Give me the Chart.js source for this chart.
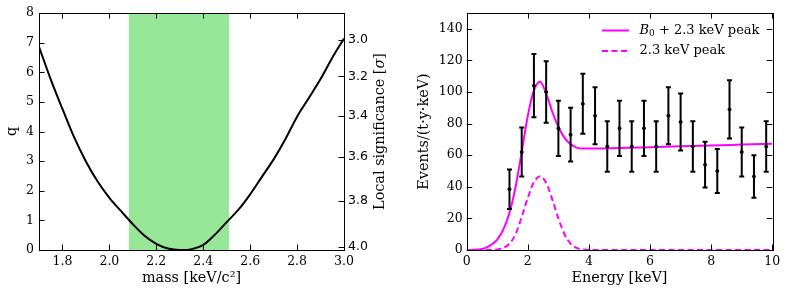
<!DOCTYPE html>
<html>
<head>
<meta charset="utf-8">
<script src="https://cdn.jsdelivr.net/npm/chart.js@4.4.1/dist/chart.umd.min.js"></script>
<style>
  html, body { margin: 0; padding: 0; background: #fff; }
  #wrap { position: relative; width: 789px; height: 295px; }
  canvas { position: absolute; top: 0; }
  #qplot { left: 0; }
  #spec { left: 400px; }
</style>
</head>
<body>
<div id="wrap">
  <canvas id="qplot" width="400" height="295"></canvas>
  <canvas id="spec" width="389" height="295"></canvas>
</div>
<script>
// ---- left panel: q vs mass ----
const mass = [1.70, 1.75, 1.80, 1.85, 1.90, 1.95, 2.00, 2.05, 2.10, 2.15, 2.20, 2.25, 2.30,
              2.35, 2.40, 2.45, 2.50, 2.55, 2.60, 2.65, 2.70, 2.75, 2.80, 2.85, 2.90, 2.95, 3.00];
const qVals = [6.86, 5.76, 4.76, 3.80, 2.99, 2.31, 1.76, 1.31, 0.87, 0.48, 0.21, 0.05, 0.00,
               0.03, 0.17, 0.52, 0.94, 1.36, 1.88, 2.47, 3.06, 3.74, 4.50, 5.13, 5.77, 6.49, 7.14];
const bandLo = 2.082, bandHi = 2.51;
const massTicks = [1.8, 2.0, 2.2, 2.4, 2.6, 2.8, 3.0];
const qTicks = [0, 1, 2, 3, 4, 5, 6, 7, 8];
const sigTicks = [3.0, 3.2, 3.4, 3.6, 3.8, 4.0];
const Q0 = 16.1; // significance axis: q = Q0 - sigma^2

// ---- right panel: spectrum ----
const dataE = [1.4, 1.8, 2.2, 2.6, 3.0, 3.4, 3.8, 4.2, 4.6, 5.0, 5.4, 5.8, 6.2, 6.6, 7.0, 7.4, 7.8, 8.2, 8.6, 9.0, 9.4, 9.8];
const dataY = [38.5, 62, 104, 100, 77, 73, 92.5, 85, 65.5, 77, 65.5, 77, 65.5, 85, 81, 65.5, 54, 50, 89, 62, 46.5, 65.5];
const dataErr = [12.5, 15.5, 20, 19.5, 17.5, 17, 19, 18, 16, 17.5, 16, 17.5, 16, 18, 18, 16, 14.5, 14, 18.5, 15.5, 13.5, 16];
const fitE = [0, 0.4, 0.6, 0.8, 1.0, 1.2, 1.4, 1.6, 1.8, 2.0, 2.2, 2.4, 2.6, 2.8, 3.0, 3.2, 3.4, 3.6, 3.8, 4.0, 5, 6, 7, 8, 9, 10];
const fitTotal = [0, 0.3, 1.2, 3.2, 6.5, 13, 23.5, 40, 62, 85, 101, 106.5, 99, 87.5, 78, 71, 67, 64.8, 64.2, 64.2, 64.6, 65.1, 65.6, 66.1, 66.7, 67.3];
const peakE = [0, 0.8, 1.0, 1.2, 1.4, 1.6, 1.8, 2.0, 2.2, 2.4, 2.6, 2.8, 3.0, 3.2, 3.4, 3.6, 3.8, 4.0, 10];
const peakVals = [0, 0, 0.3, 1.3, 4, 10, 21, 33, 43, 46.7, 42.5, 32, 20, 10, 4, 1.3, 0.3, 0, 0];
const energyTicks = [0, 2, 4, 6, 8, 10];
const eventTicks = [0, 20, 40, 60, 80, 100, 120, 140];

const serif = 'DejaVu Serif';
const pts = (xs, ys) => xs.map((x, i) => ({x: x, y: ys[i]}));
const setTicks = (vals) => (scale) => { scale.ticks = vals.map(v => ({value: v})); };

// draw a row of text pieces, each with its own font, starting at x
function drawPieces(ctx, pieces, x, y) {
  pieces.forEach(p => {
    ctx.font = p.font;
    ctx.fillText(p.text, x, y + (p.dy || 0));
    x += ctx.measureText(p.text).width;
  });
}
function piecesWidth(ctx, pieces) {
  return pieces.reduce((w, p) => { ctx.font = p.font; return w + ctx.measureText(p.text).width; }, 0);
}

// frame + inward tick marks, matplotlib style
const frameTicks = {
  id: 'frameTicks',
  afterDraw(chart, args, opts) {
    const {ctx, chartArea: a} = chart;
    const L = 5.5;
    ctx.save();
    ctx.strokeStyle = '#000';
    ctx.lineWidth = 1;
    ctx.strokeRect(Math.round(a.left) + 0.5, Math.round(a.top) + 0.5,
                   Math.round(a.right - a.left), Math.round(a.bottom - a.top));
    ctx.beginPath();
    for (const [id, sides] of Object.entries(opts.marks || {})) {
      const s = chart.scales[id];
      s.ticks.forEach(t => {
        const p = Math.round(s.getPixelForValue(t.value)) + 0.5;
        sides.forEach(side => {
          if (side === 'bottom') { ctx.moveTo(p, a.bottom); ctx.lineTo(p, a.bottom - L); }
          if (side === 'top') { ctx.moveTo(p, a.top); ctx.lineTo(p, a.top + L); }
          if (side === 'left') { ctx.moveTo(a.left, p); ctx.lineTo(a.left + L, p); }
          if (side === 'right') { ctx.moveTo(a.right, p); ctx.lineTo(a.right - L, p); }
        });
      });
    }
    ctx.stroke();
    if (opts.rightTitle) {
      const f = '14.4px "' + serif + '"';
      const pieces = [
        { text: 'Local significance [', font: f },
        { text: 'σ', font: 'italic ' + f },
        { text: ']', font: f }
      ];
      ctx.fillStyle = '#000';
      ctx.textAlign = 'left';
      ctx.textBaseline = 'middle';
      ctx.translate(opts.rightTitle.x, (a.top + a.bottom) / 2);
      ctx.rotate(-Math.PI / 2);
      drawPieces(ctx, pieces, -piecesWidth(ctx, pieces) / 2, 0);
    }
    ctx.restore();
  }
};

// vertical error bars with caps
const errorBars = {
  id: 'errorBars',
  afterDatasetsDraw(chart) {
    const {ctx, scales: {x, y}} = chart;
    ctx.save();
    ctx.strokeStyle = '#000';
    ctx.lineWidth = 2;
    ctx.beginPath();
    dataE.forEach((e, i) => {
      const px = x.getPixelForValue(e);
      const hi = y.getPixelForValue(dataY[i] + dataErr[i]);
      const lo = y.getPixelForValue(dataY[i] - dataErr[i]);
      ctx.moveTo(px, hi); ctx.lineTo(px, lo);
      ctx.moveTo(px - 2.5, hi); ctx.lineTo(px + 2.5, hi);
      ctx.moveTo(px - 2.5, lo); ctx.lineTo(px + 2.5, lo);
    });
    ctx.stroke();
    ctx.restore();
  }
};

// legend drawn inside the plot
const innerLegend = {
  id: 'innerLegend',
  afterDraw(chart) {
    const ctx = chart.ctx;
    const f = '13px "' + serif + '"';
    ctx.save();
    ctx.strokeStyle = '#ff00ff';
    ctx.lineWidth = 2;
    ctx.beginPath(); ctx.moveTo(202, 30.5); ctx.lineTo(229, 30.5); ctx.stroke();
    ctx.setLineDash([6, 3.5]);
    ctx.beginPath(); ctx.moveTo(202, 51); ctx.lineTo(229, 51); ctx.stroke();
    ctx.fillStyle = '#000';
    ctx.textBaseline = 'middle';
    ctx.textAlign = 'left';
    drawPieces(ctx, [
      { text: 'B', font: 'italic ' + f },
      { text: '0', font: '9px "' + serif + '"', dy: 3.5 },
      { text: ' + 2.3 keV peak', font: f }
    ], 239.5, 30.5);
    drawPieces(ctx, [{ text: '2.3 keV peak', font: f }], 239.5, 51);
    ctx.restore();
  }
};

Chart.defaults.font.family = serif;
Chart.defaults.font.size = 12.5;
Chart.defaults.color = '#000';

let qChart = new Chart(document.getElementById('qplot').getContext('2d'), {
  type: 'line',
  data: {
    datasets: [{
      data: pts(mass, qVals),
      borderColor: '#000',
      borderWidth: 2,
      pointRadius: 0,
      cubicInterpolationMode: 'monotone',
      fill: false
    }, {
      data: [{x: bandLo, y: 8}, {x: bandHi, y: 8}],
      borderWidth: 0,
      pointRadius: 0,
      backgroundColor: '#98e698',
      fill: 'origin'
    }]
  },
  options: {
    responsive: false,
    animation: false,
    layout: { padding: { top: 13, left: 0, right: 0, bottom: 0 } },
    plugins: {
      legend: { display: false },
      tooltip: { enabled: false },
      frameTicks: {
        marks: { x: ['bottom', 'top'], y: ['left'], sig: ['right'] },
        rightTitle: { x: 380 }
      }
    },
    scales: {
      x: {
        type: 'linear', min: 1.7, max: 3.0,
        afterBuildTicks: setTicks(massTicks),
        afterFit: s => { s.height = 45; },
        grid: { display: false, drawTicks: false },
        border: { display: false },
        ticks: { padding: 4, callback: v => v.toFixed(1), maxRotation: 0 },
        title: { display: true, text: 'mass [keV/c²]', font: { size: 14.4 }, padding: { top: 0, bottom: 8 } }
      },
      y: {
        type: 'linear', position: 'left', min: 0, max: 8,
        afterBuildTicks: setTicks(qTicks),
        afterFit: s => { s.width = 39; },
        grid: { display: false, drawTicks: false },
        border: { display: false },
        ticks: { padding: 5 },
        title: { display: true, text: 'q', font: { size: 14.4 }, padding: { top: 4, bottom: 0 } }
      },
      sig: {
        type: 'linear', position: 'right', min: 0, max: 8,
        afterBuildTicks: s => { s.ticks = sigTicks.map(v => ({value: Q0 - v * v})); },
        afterFit: s => { s.width = 56; },
        grid: { display: false, drawTicks: false },
        border: { display: false },
        ticks: { padding: 4, font: { family: 'DejaVu Sans', size: 12.5 },
                 callback: v => Math.sqrt(Q0 - v).toFixed(1) }
      }
    }
  },
  plugins: [frameTicks]
});

let specChart = new Chart(document.getElementById('spec').getContext('2d'), {
  type: 'line',
  data: {
    datasets: [{
      type: 'scatter',
      data: pts(dataE, dataY),
      backgroundColor: '#000',
      borderColor: '#000',
      pointRadius: 1.5,
      showLine: false
    }, {
      data: pts(fitE, fitTotal),
      borderColor: '#ff00ff',
      borderWidth: 2,
      pointRadius: 0,
      cubicInterpolationMode: 'monotone',
      fill: false
    }, {
      data: pts(peakE, peakVals),
      borderColor: '#ff00ff',
      borderWidth: 2,
      borderDash: [6, 3.5],
      pointRadius: 0,
      cubicInterpolationMode: 'monotone',
      fill: false
    }]
  },
  options: {
    responsive: false,
    animation: false,
    layout: { padding: { top: 13, left: 0, right: 16.7, bottom: 0 } },
    plugins: {
      legend: { display: false },
      tooltip: { enabled: false },
      frameTicks: { marks: { x: ['bottom', 'top'], y: ['left', 'right'] } }
    },
    scales: {
      x: {
        type: 'linear', min: 0, max: 10,
        afterBuildTicks: setTicks(energyTicks),
        afterFit: s => { s.height = 45; },
        grid: { display: false, drawTicks: false },
        border: { display: false },
        ticks: { padding: 4, maxRotation: 0 },
        title: { display: true, text: 'Energy [keV]', font: { size: 14.4 }, padding: { top: 0, bottom: 8 } }
      },
      y: {
        type: 'linear', min: 0, max: 150,
        afterBuildTicks: setTicks(eventTicks),
        afterFit: s => { s.width = 66.7; },
        grid: { display: false, drawTicks: false },
        border: { display: false },
        ticks: { padding: 4 },
        title: { display: true, text: 'Events/(t·y·keV)', font: { size: 14.4 }, padding: { top: 15.4, bottom: 0 } }
      }
    }
  },
  plugins: [frameTicks, errorBars, innerLegend]
});
</script>
</body>
</html>
